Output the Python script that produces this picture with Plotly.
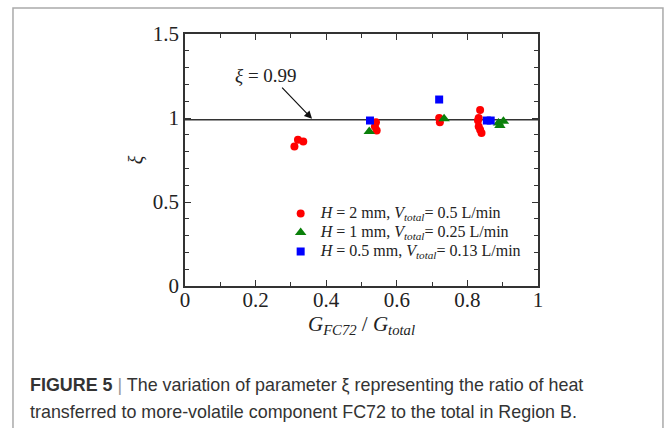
import plotly.graph_objects as go

# Measured points: G_FC72/G_total vs. xi for the three channel gaps
red_x = [0.31, 0.32, 0.335, 0.541, 0.543, 0.538, 0.72, 0.722, 0.836, 0.832, 0.830, 0.832, 0.836, 0.840]
red_y = [0.83, 0.87, 0.86, 0.975, 0.925, 0.95, 1.0, 0.975, 1.048, 1.0, 0.985, 0.95, 0.93, 0.91]

green_x = [0.522, 0.734, 0.888, 0.902, 0.892]
green_y = [0.92, 0.995, 0.97, 0.98, 0.955]

blue_x = [0.524, 0.72, 0.855, 0.866]
blue_y = [0.985, 1.11, 0.985, 0.985]

XI_MEAN = 0.99

serif = "Liberation Serif, Times New Roman, serif"
sans = "Liberation Sans, Arial, sans-serif"


def legend_label(text):
    # larger inline text while keeping the compact legend row height
    return "<span style='font-size:16px'>" + text + "</span>"


fig = go.Figure()

# Mean value line across the full range
fig.add_trace(go.Scatter(
    x=[0, 1], y=[XI_MEAN, XI_MEAN], mode="lines",
    line=dict(color="#333333", width=1.6), showlegend=False, hoverinfo="skip"))

fig.add_trace(go.Scatter(
    x=red_x, y=red_y, mode="markers",
    marker=dict(symbol="circle", size=8, color="#ff0000"),
    name=legend_label("<i>H</i> = 2 mm, <i>V</i><sub><i>total</i></sub>= 0.5 L/min")))
fig.add_trace(go.Scatter(
    x=green_x, y=green_y, mode="markers",
    marker=dict(symbol="triangle-up", size=10, color="#0a800a"),
    name=legend_label("<i>H</i> = 1 mm, <i>V</i><sub><i>total</i></sub>= 0.25 L/min")))
fig.add_trace(go.Scatter(
    x=blue_x, y=blue_y, mode="markers",
    marker=dict(symbol="square", size=8, color="#0000ff"),
    name=legend_label("<i>H</i> = 0.5 mm, <i>V</i><sub><i>total</i></sub>= 0.13 L/min")))

axis_common = dict(
    showline=True, linecolor="#333333", linewidth=1.5, mirror="allticks",
    ticks="inside", ticklen=6, tickwidth=1.3, tickcolor="#333333",
    showgrid=False, zeroline=False,
    tickfont=dict(family=serif, size=21, color="#222222"),
)

fig.update_xaxes(
    range=[0, 1], dtick=0.2, tick0=0, ticklabelstandoff=-6,
    minor=dict(dtick=0.1, ticks="inside", ticklen=4, tickcolor="#333333"),
    title=dict(text="<i>G</i><sub><i>FC72</i></sub> / <i>G</i><sub><i>total</i></sub>",
               font=dict(family=serif, size=21, color="#222222"), standoff=3),
    **axis_common)
fig.update_yaxes(
    range=[0, 1.5], dtick=0.5, tick0=0,
    minor=dict(dtick=0.1, ticks="inside", ticklen=4, tickcolor="#333333"),
    title=dict(text="<i>ξ</i>", font=dict(family=serif, size=20, color="#222222"), standoff=4),
    **axis_common)

# Outer figure frame
fig.add_shape(type="rect", xref="paper", yref="paper",
              x0=-0.4873, x1=1.354, y0=-0.62, y1=1.103,
              line=dict(color="#aaaaaa", width=1.5), fillcolor="rgba(0,0,0,0)")

# Label and arrow pointing at the mean line
fig.add_annotation(x=0.36, y=XI_MEAN + 0.005, xref="x", yref="y",
                   ax=0.271, ay=1.19, axref="x", ayref="y",
                   text="", showarrow=True, arrowhead=2, arrowsize=1.3,
                   arrowwidth=1.2, arrowcolor="#111111")
fig.add_annotation(x=0.23, y=1.254, xref="x", yref="y", showarrow=False,
                   text="<i>ξ</i> = 0.99",
                   font=dict(family=serif, size=19, color="#222222"))

# Caption
fig.add_annotation(x=-0.4448, y=-0.393, xref="paper", yref="paper",
                   xanchor="left", yanchor="middle", showarrow=False,
                   text="<b>FIGURE 5</b> <span style='color:#999999'>|</span> The variation of parameter ξ representing the ratio of heat",
                   font=dict(family=sans, size=17.9, color="#333333"))
fig.add_annotation(x=-0.4448, y=-0.499, xref="paper", yref="paper",
                   xanchor="left", yanchor="middle", showarrow=False,
                   text="transferred to more-volatile component FC72 to the total in Region B.",
                   font=dict(family=sans, size=17.9, color="#333333"))

fig.update_layout(
    width=668, height=428,
    margin=dict(l=185, r=130, t=34, b=142, autoexpand=False),
    paper_bgcolor="white", plot_bgcolor="white",
    legend=dict(x=0.271, y=0.345, xanchor="left", yanchor="top",
                bgcolor="rgba(0,0,0,0)", tracegroupgap=0,
                font=dict(family=serif, size=11, color="#222222")),
    showlegend=True,
)

fig.write_html("out.html")
